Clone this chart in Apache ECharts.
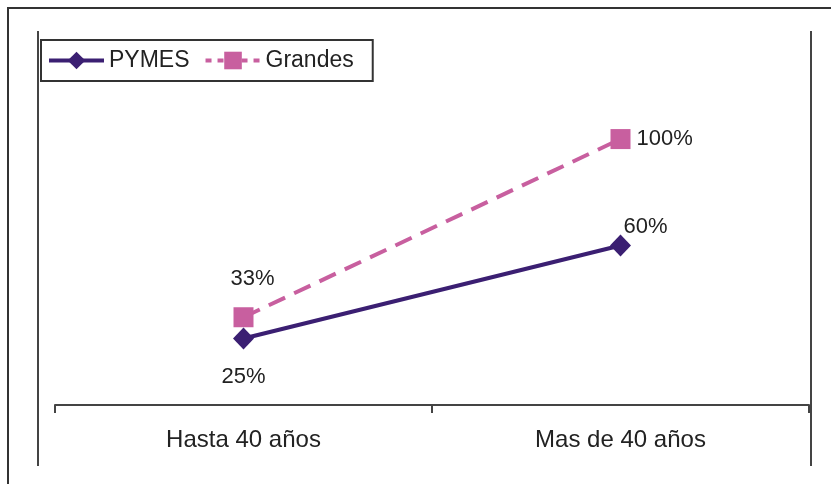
<!DOCTYPE html>
<html>
<head>
<meta charset="utf-8">
<script src="https://cdn.jsdelivr.net/npm/echarts@6/dist/echarts.min.js"></script>
<style>
  html, body { margin: 0; padding: 0; background: #fff; }
  #chart { width: 831px; height: 484px; }
</style>
</head>
<body>
<div id="chart"></div>
<script>
const categories = ['Hasta 40 años', 'Mas de 40 años'];
const seriesNames = ['PYMES', 'Grandes'];
const pymesValues = [25, 60];
const grandesValues = [33, 100];

const FONT = '"Liberation Sans", Arial, sans-serif';
const pymesColor = '#3b1f72';
const grandesColor = '#c85f9f';

// label placement per point (style only)
const pymesLabelStyle = [
  { position: 'bottom', distance: 16, offset: [0, 0] },
  { position: 'top', distance: 10, offset: [25, 13] }
];
const grandesLabelStyle = [
  { position: 'top', distance: 17, offset: [9, 0] },
  { position: 'right', distance: 6, offset: [0, 0] }
];

function buildData(values, styles) {
  return values.map((v, i) => ({ value: v, label: styles[i] }));
}

const chart = echarts.init(document.getElementById('chart'), null, { renderer: 'canvas' });
chart.setOption({
  backgroundColor: '#fff',
  animation: false,
  textStyle: { fontFamily: FONT },
  grid: { left: 55, right: 22, top: 46, bottom: 79 },
  legend: {
    left: 41, top: 40,
    padding: [9, 19, 9, 6],
    borderColor: '#333', borderWidth: 2,
    itemWidth: 55, itemHeight: 22, itemGap: 14,
    textStyle: { fontSize: 23, color: '#222', fontFamily: FONT },
    data: [
      { name: seriesNames[0], lineStyle: { width: 4, color: pymesColor } },
      { name: seriesNames[1], lineStyle: { width: 4, color: grandesColor, type: [6, 6] } }
    ]
  },
  xAxis: {
    type: 'category',
    data: categories,
    boundaryGap: true,
    axisLine: { lineStyle: { color: '#444', width: 2 } },
    axisTick: { show: true, length: 8, lineStyle: { color: '#444', width: 2 } },
    axisLabel: { fontSize: 24, color: '#222', margin: 23, fontFamily: FONT },
    splitLine: { show: false }
  },
  yAxis: {
    type: 'value', min: 0, max: 135,
    show: false, splitLine: { show: false }
  },
  series: [
    {
      name: seriesNames[0], type: 'line',
      data: buildData(pymesValues, pymesLabelStyle),
      symbol: 'diamond', symbolSize: [21, 22],
      itemStyle: { color: pymesColor },
      lineStyle: { color: pymesColor, width: 4 },
      label: { show: true, formatter: '{c}%', fontSize: 22, color: '#222', fontFamily: FONT },
      z: 3
    },
    {
      name: seriesNames[1], type: 'line',
      data: buildData(grandesValues, grandesLabelStyle),
      symbol: 'rect', symbolSize: 20,
      itemStyle: { color: grandesColor },
      lineStyle: { color: grandesColor, width: 4, type: [18, 10] },
      label: { show: true, formatter: '{c}%', fontSize: 22, color: '#222', fontFamily: FONT },
      z: 2
    }
  ],
  graphic: [
    { type: 'rect', shape: { x: 8, y: 8, width: 840, height: 500 }, style: { fill: null, stroke: '#333', lineWidth: 2 }, silent: true },
    { type: 'line', shape: { x1: 38, y1: 31, x2: 38, y2: 466 }, style: { stroke: '#444', lineWidth: 2 }, silent: true },
    { type: 'line', shape: { x1: 811, y1: 31, x2: 811, y2: 466 }, style: { stroke: '#444', lineWidth: 2 }, silent: true }
  ]
});
</script>
</body>
</html>
